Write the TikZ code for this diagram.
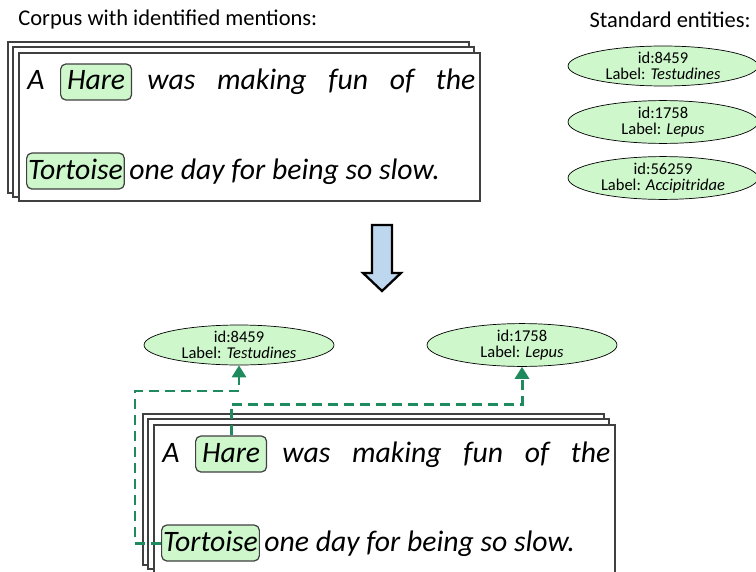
\documentclass[tikz,border=0pt]{standalone}
\usepackage{fontspec}
\setmainfont{Carlito}
\usetikzlibrary{arrows.meta,positioning,shapes.geometric}
\definecolor{menfill}{HTML}{CEF7CB}
\definecolor{entfill}{HTML}{CEF7CB}
\definecolor{linkgreen}{HTML}{1F8A5E}
\definecolor{arrowblue}{HTML}{BDD7EE}
\definecolor{sheetline}{HTML}{404040}

% one stack of pages with the two marked mentions
\newcommand\mentiondoc[1]{%
  \draw[sheet] (8,42) rectangle (469,193);
  \draw[sheet] (13,47) rectangle (474,197);
  \draw[sheet] (19,53) rectangle (480,201);
  \node[word,anchor=base west] (#1a) at (27,90) {A};
  \node[mention,anchor=base west,minimum width=1.42cm] (#1hare) at (60,90) {Hare};
  \node[word,anchor=base west] (#1rest) at (147,90) {\makebox[6.56cm][s]{was making fun of the}};
  \node[mention,anchor=base west] (#1tort) at (26,179) {Tortoise};
  \node[word,anchor=base west] (#1tail) at (129,179) {one day for being so slow.};
}

\begin{document}
\begin{tikzpicture}[
  x=0.02cm,y=-0.02cm,
  sheet/.style={draw=sheetline,fill=white,line width=0.7pt},
  word/.style={inner sep=0pt,font=\fontsize{16.9}{19}\selectfont\itshape},
  mention/.style={word,draw=sheetline,fill=menfill,rounded corners=3pt,
                  inner xsep=0.03cm,text height=0.52cm,text depth=0.2cm,line width=0.7pt},
  entity/.style={draw=black,fill=entfill,ellipse,minimum width=3.8cm,minimum height=0.8cm,
                 inner sep=0pt,align=center,font=\fontsize{9.4}{9.2}\selectfont},
  heading/.style={inner sep=0pt,font=\fontsize{12.8}{15}\selectfont},
  link/.style={draw=linkgreen,line width=1.7pt,dash pattern=on 0.2cm off 0.12cm,
               -{Triangle[width=0.28cm,length=0.24cm]}}
]
  \useasboundingbox (0,0) rectangle (756,571);

  \node[heading,anchor=west] (corpus) at (18,20) {Corpus with identified mentions:};
  \node[heading,anchor=east] (standard) at (751,20) {Standard entities:};

  \mentiondoc{src}

  \node[entity] (testuA) at (663,66) {id:8459\\Label: \textit{Testudines}};
  \node[entity] (lepusA) at (663,122) {id:1758\\Label: \textit{Lepus}};
  \node[entity] (accipA) at (663,178) {id:56259\\Label: \textit{Accipitridae}};

  % stage arrow
  \draw[fill=arrowblue,line width=1.3pt,line join=miter]
    (372,225) -- (392,225) -- (392,273) -- (401,273) -- (382,291) -- (363,273) -- (372,273) -- cycle;

  \node[entity] (testuB) at (239,345) {id:8459\\Label: \textit{Testudines}};
  \node[entity] (lepusB) at (522,345) {id:1758\\Label: \textit{Lepus}};

  \begin{scope}[shift={(135,372)}]
    \mentiondoc{out}
  \end{scope}

  \coordinate (bend) at (135,391);
  \draw[link] (outhare.north) -- ++(0,-31) -| (lepusB.south);
  \draw[link] (outtort.west) -| (bend) -| (testuB.south);
\end{tikzpicture}
\end{document}
